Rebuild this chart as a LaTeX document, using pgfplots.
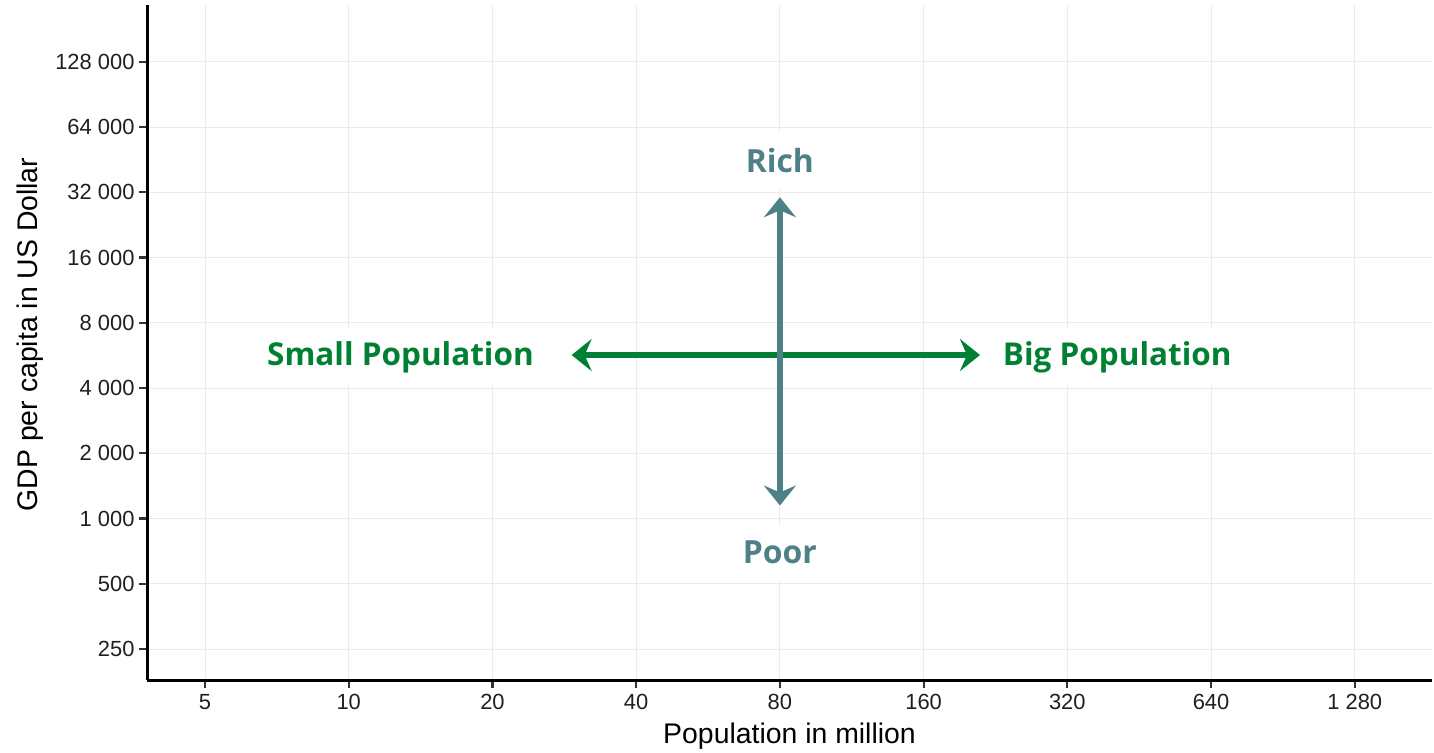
\documentclass[border=0pt]{standalone}
\usepackage{pgfplots}
\pgfplotsset{compat=1.18}
\usetikzlibrary{arrows.meta}
\usepackage{fontspec}
\setmainfont{Liberation Sans}
\newfontfamily\labfont{Open Sans}
\definecolor{popgreen}{HTML}{008032}
\definecolor{wealthteal}{HTML}{4E8088}
\definecolor{gridgray}{HTML}{EBEBEB}
\definecolor{ticktext}{HTML}{1F1F1F}

\begin{document}
\begin{tikzpicture}
\begin{axis}[
  scale only axis,
  width=1285bp, height=675bp,
  xmode=log, ymode=log,
  xmin=3.78, xmax=1858,
  ymin=180, ymax=234000,
  axis x line*=bottom, axis y line*=left,
  axis line style={line width=3bp, black},
  xtick={5,10,20,40,80,160,320,640,1280},
  xticklabels={5,10,20,40,80,160,320,640,1 280},
  ytick={250,500,1000,2000,4000,8000,16000,32000,64000,128000},
  yticklabels={250,500,1 000,2 000,4 000,8 000,16 000,32 000,64 000,128 000},
  minor tick num=0,
  tick align=outside,
  major tick length=8bp,
  major tick style={line width=2.2bp, black!80},
  grid=major,
  major grid style={line width=1bp, gridgray},
  xticklabel style={font=\fontsize{22}{26}\selectfont, text=ticktext, yshift=-3bp},
  yticklabel style={font=\fontsize{22}{26}\selectfont, text=ticktext, xshift=-1bp},
  every axis x label/.style={at={(axis description cs:0.5,0)}, anchor=center, yshift=-56bp, font=\fontsize{28.5}{32}\selectfont},
  every axis y label/.style={at={(axis description cs:0,0.5)}, xshift=-117bp, yshift=8bp, anchor=center, rotate=90, font=\fontsize{28.5}{32}\selectfont},
  xlabel={Population in million},
  ylabel={GDP per capita in US Dollar},
  clip=false,
]
% population axis (horizontal), drawn first so the wealth axis lies on top
\addplot[popgreen, line width=6bp, {Stealth[length=20bp, width=32bp, inset=7bp]}-{Stealth[length=20bp, width=32bp, inset=7bp]}]
  coordinates {(29.3,5682) (210,5682)};
% wealth axis (vertical)
\addplot[wealthteal, line width=6bp, {Stealth[length=20bp, width=32bp, inset=7bp]}-{Stealth[length=20bp, width=32bp, inset=7bp]}]
  coordinates {(80,1149) (80,30360)};

\node[anchor=base, fill=white, inner xsep=20bp, inner ysep=16bp, text=wealthteal,
      font=\labfont\bfseries\fontsize{32}{36}\selectfont] at (axis cs:80,39440) {Rich};
\node[anchor=base, fill=white, inner xsep=20bp, inner ysep=16bp, text=wealthteal,
      font=\labfont\bfseries\fontsize{32}{36}\selectfont] at (axis cs:80,618) {Poor};
\node[anchor=base east, fill=white, inner xsep=8bp, inner ysep=12bp, text=popgreen,
      font=\labfont\bfseries\fontsize{31.6}{36}\selectfont] at (axis cs:25.4,5108) {Small Population};
\node[anchor=base west, fill=white, inner xsep=8bp, inner ysep=12bp, text=popgreen,
      font=\labfont\bfseries\fontsize{31.6}{36}\selectfont] at (axis cs:225.5,5108) {Big Population};
\end{axis}
\path ([shift={(-147bp,-70bp)}]current axis.south west) rectangle ([shift={(2bp,5bp)}]current axis.north east);
\end{tikzpicture}
\end{document}
